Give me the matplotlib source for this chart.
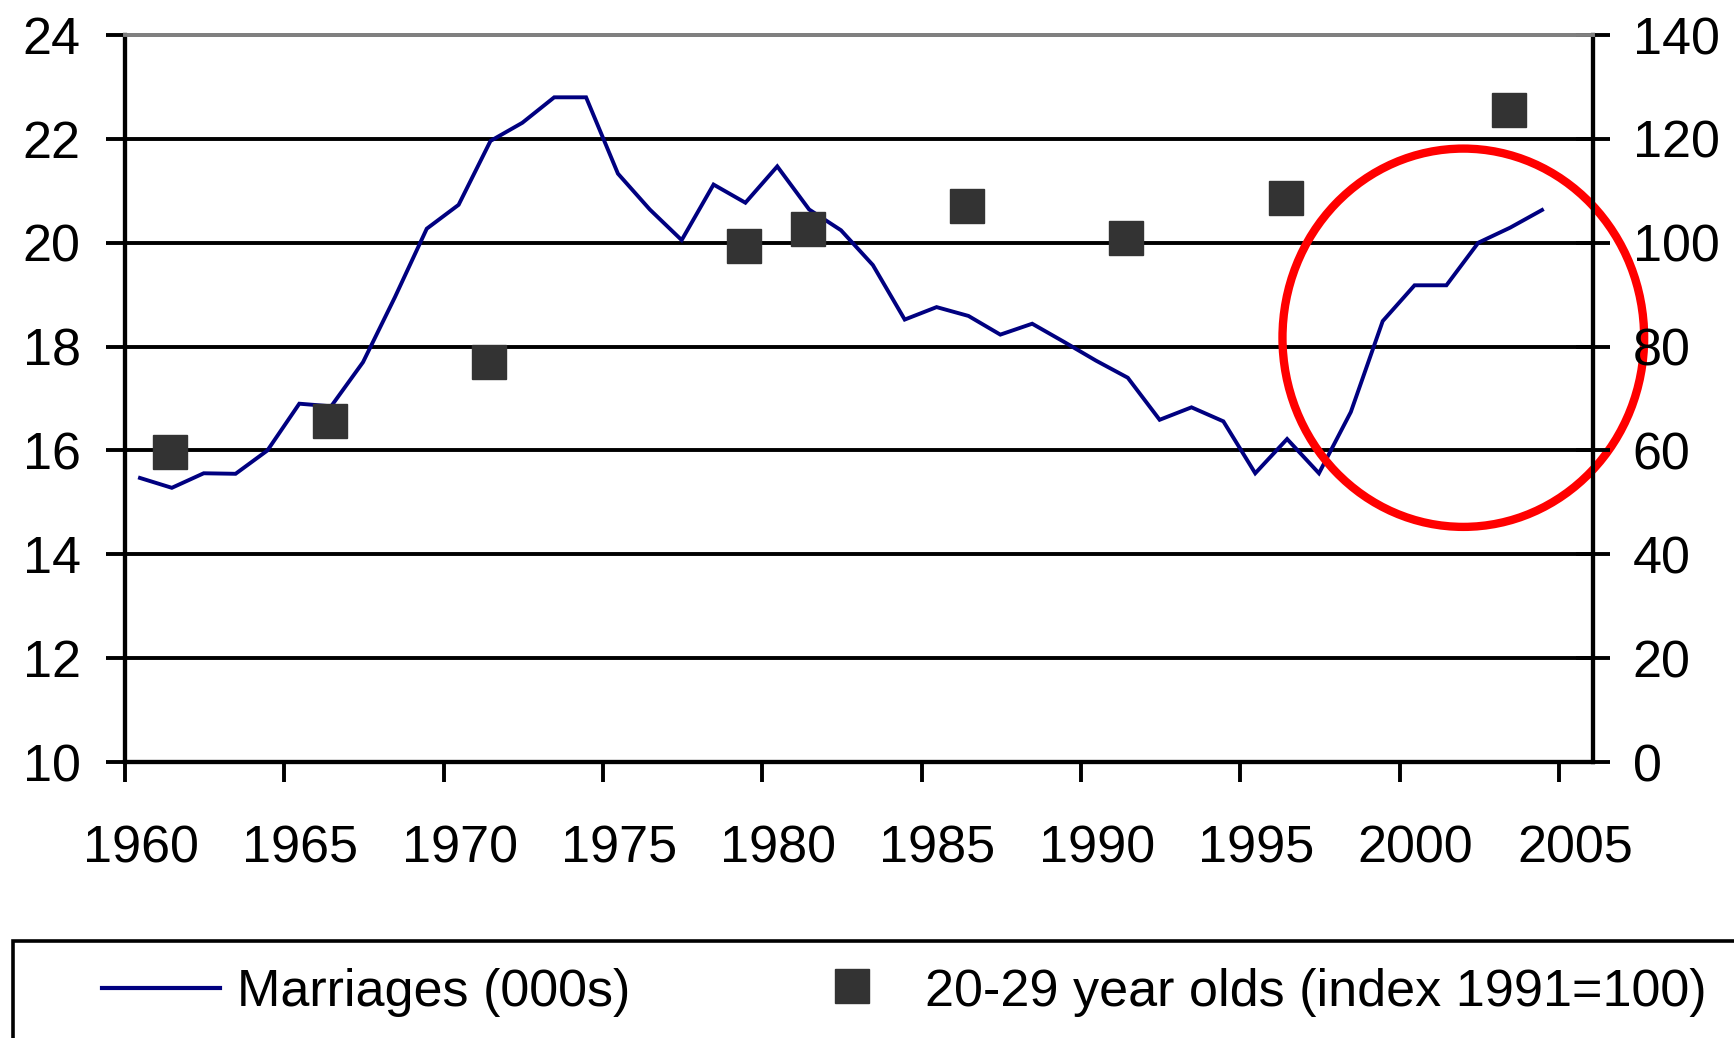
import matplotlib
matplotlib.use("Agg")
import matplotlib.pyplot as plt
from matplotlib.patches import Ellipse, Rectangle
from matplotlib.lines import Line2D
import numpy as np

# ---- data ----
marriage_years = list(range(1960, 2005))
marriages = [15.47, 15.28, 15.56, 15.55, 16.0, 16.9, 16.85, 17.7, 18.95, 20.27,
             20.73, 21.96, 22.31, 22.8, 22.8, 21.33, 20.64, 20.05, 21.12, 20.77,
             21.47, 20.64, 20.24, 19.57, 18.52, 18.76, 18.59, 18.23, 18.44, 18.09,
             17.73, 17.4, 16.59, 16.83, 16.56, 15.56, 16.22, 15.56, 16.74, 18.49,
             19.18, 19.18, 20.0, 20.29, 20.63]
index_years = [1961, 1966, 1971, 1979, 1981, 1986, 1991, 1996, 2003]
index_vals = [59.7, 65.6, 77.0, 99.4, 102.7, 107.0, 101.0, 108.7, 125.6]
x_tick_years = list(range(1960, 2006, 5))
left_ticks = [10, 12, 14, 16, 18, 20, 22, 24]
right_ticks = [0, 20, 40, 60, 80, 100, 120, 140]
label_line = "Marriages (000s)"
label_marker = "20-29 year olds (index 1991=100)"

FONT = "Liberation Sans"
FS = 37.5
W, H = 1734, 1038
fig = plt.figure(figsize=(W / 100, H / 100), dpi=100)
ax = fig.add_axes([125 / W, 1 - 762 / H, (1593 - 125) / W, (762 - 35) / H])
ax2 = ax.twinx()

line_x = np.array(marriage_years) + 0.47
mark_x = np.array(index_years) + 0.42
navy = "#000080"

ax.plot(line_x, marriages, color=navy, lw=2.8, zorder=3, solid_joinstyle="miter")
ax2.plot(mark_x, index_vals, linestyle="none", marker="s", markersize=24.5,
         color="#333333", zorder=3)

ax.set_xlim(1960, 2006.07)
ax.set_ylim(10, 24)
ax2.set_ylim(0, 140)

# grid
ax.set_yticks(left_ticks)
ax.yaxis.grid(True, color="black", lw=2.8)
ax.set_axisbelow(True)

# spines
for a in (ax, ax2):
    for s in ("left", "right", "bottom"):
        a.spines[s].set_color("black")
        a.spines[s].set_linewidth(3.0)
    a.spines["top"].set_color("#808080")
    a.spines["top"].set_linewidth(2.8)

# x ticks: marks at years, labels centred half a year later
ax.set_xticks(x_tick_years)
ax.set_xticklabels([])
ax.set_xticks(np.array(x_tick_years) + 0.5, minor=True)
ax.set_xticklabels([str(y) for y in x_tick_years], minor=True)
ax.tick_params(axis="x", which="major", direction="out", length=14.5, width=2.8, color="black")
ax.tick_params(axis="x", which="minor", length=0, pad=45)

ax.tick_params(axis="y", which="major", direction="out", length=13.5, width=2.8,
               color="black", pad=18.5)
ax2.set_yticks(right_ticks)
ax2.tick_params(axis="y", which="major", direction="inout", length=25, width=2.8,
                color="black", pad=16)

for lab in ax.get_xticklabels(minor=True) + ax.get_yticklabels() + ax2.get_yticklabels():
    lab.set_fontfamily(FONT)
    lab.set_fontsize(FS)
    lab.set_color("black")

# red highlight circle
ell = Ellipse((2002.0, 18.17), width=11.35, height=7.285, fill=False,
              edgecolor="#ff0000", lw=6.0, zorder=10, clip_on=False)
ax.add_patch(ell)

# legend box (manual)
fig.patches.append(Rectangle((13.4 / W, -0.05), 1.1, 0.05 + (1 - 940.7 / H),
                             transform=fig.transFigure, fill=False,
                             edgecolor="black", lw=2.6))
ly = 1 - 988 / H
fig.lines.append(Line2D([102 / W, 220 / W], [ly, ly], transform=fig.transFigure,
                        color=navy, lw=3.0))
fig.lines.append(Line2D([851.5 / W], [1 - 986 / H], transform=fig.transFigure,
                        linestyle="none", marker="s", markersize=24, color="#333333"))
base = 1 - 1006 / H
fig.text(236.6 / W, base, label_line, fontfamily=FONT, fontsize=FS, va="baseline", ha="left")
fig.text(924.8 / W, base, label_marker, fontfamily=FONT, fontsize=FS, va="baseline", ha="left")

fig.savefig("out.png", dpi=100)
